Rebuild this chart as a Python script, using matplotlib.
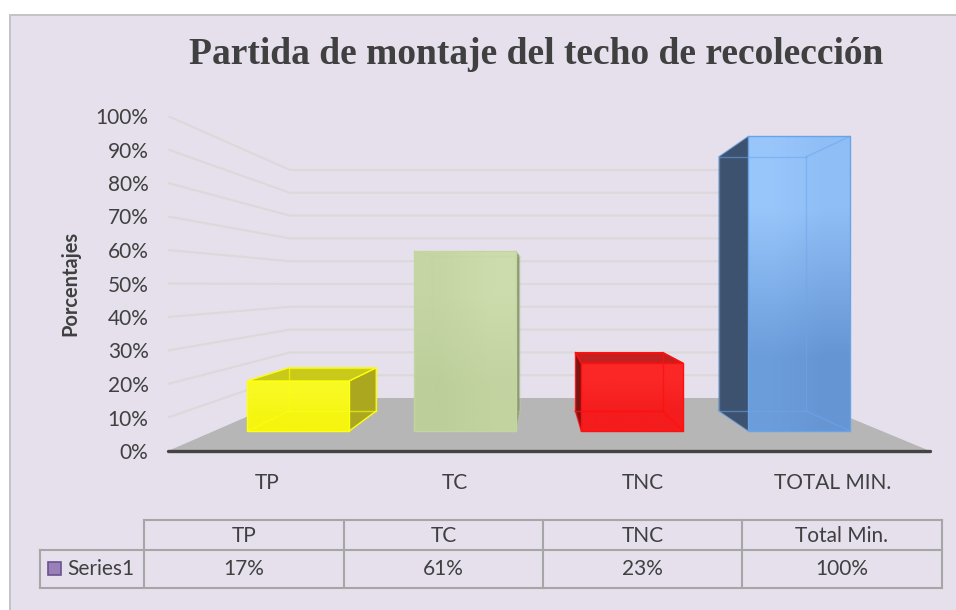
import matplotlib
matplotlib.use("Agg")
import matplotlib.pyplot as plt
import numpy as np
from matplotlib.patches import Polygon, Rectangle

# ---- data ----
title = "Partida de montaje del techo de recolección"
y_label = "Porcentajes"
axis_categories = ["TP", "TC", "TNC", "TOTAL MIN."]
table_categories = ["TP", "TC", "TNC", "Total Min."]
series_name = "Series1"
values = [17, 61, 23, 100]
y_ticks = list(range(0, 101, 10))

W, H = 956, 610
BG = "#e5e0ec"
TXT = "#404040"
FONT = "Lato"
fig = plt.figure(figsize=(W / 100, H / 100), dpi=100, facecolor="white")

# overlay in pixel units: frame, title, table
ov = fig.add_axes([0, 0, 1, 1], zorder=0)
ov.set_xlim(0, W); ov.set_ylim(H, 0); ov.axis("off")
ov.add_patch(Rectangle((10, 15), W, H, fc=BG, ec="#c4c4c4", lw=1.4, clip_on=True))
ov.text(536, 55, title, family="Liberation Serif", weight="bold", fontsize=27,
        color=TXT, ha="center", va="center")

# main chart axes: x in category units, y in percent (front plane of the floor)
L, R, T, B = 168, 930, 116, 451
ax = fig.add_axes([L / W, 1 - B / H, (R - L) / W, (B - T) / H], zorder=1)
ax.set_xlim(0, 4); ax.set_ylim(0, 100)
ax.patch.set_alpha(0)
for s in ax.spines.values():
    s.set_visible(False)
ax.set_xticks(np.arange(4) + np.array([0.52, 0.507, 0.49, 0.49]))
ax.set_xticklabels(axis_categories)
ax.set_yticks(y_ticks)
ax.set_yticklabels([f"{v}%" for v in y_ticks])
ax.tick_params(length=0, labelcolor=TXT, labelsize=15)
ax.tick_params(axis="x", pad=16)
ax.tick_params(axis="y", pad=14)
for lab in ax.get_xticklabels() + ax.get_yticklabels():
    lab.set_family(FONT)
ax.set_ylabel(y_label, family=FONT, weight="bold", fontsize=14.4, color=TXT, labelpad=11)


def proj(u, v, t):
    """category position u, value v, depth t (0 front .. 1 back wall) -> data coords"""
    x = (122 * t + u * (762 - 250 * t) / 4) / 762 * 4
    y = (53 * t + v * (3.35 - 1.07 * t)) / 3.35
    return x, y


def P(*pts):
    return [proj(*p) for p in pts]


# floor
ax.add_patch(Polygon(P((0, 0, 0), (4, 0, 0), (4, 0, 1), (0, 0, 1)), fc="#b6b6b6", ec="none", zorder=1))
# wall grid lines
for v in y_ticks[1:]:
    xs, ys = zip(*P((0, v, 0), (0, v, 1), (4, v, 1)))
    ax.plot(xs, ys, color="#dbd9d9", lw=1.5, zorder=1.5, solid_capstyle="butt")
xs, ys = zip(*P((0, 0, 0), (4, 0, 0)))
ax.plot(xs, ys, color="#444444", lw=2.4, zorder=6, clip_on=False, solid_capstyle="round")

TF, TB = 0.377, 0.755  # bar front and back depth
UL, UR = 0.2, 0.81     # bar span inside its category

styles = [
    dict(front=[["#f9f922", "#f9f922"], ["#f5f510", "#f5f510"]], top="#c9c91a", side="#aba81f",
         edge="#ffff10", inner="#ffff10", show="right", alpha=0.6),
    dict(front=[["#c5d6a4", "#ccdcac"], ["#bccf9a", "#c2d3a0"]], top="#c5d6a4", side="#8b9a72",
         edge="#c4d6a0", inner="#bfd49b", show="right", alpha=0.25),
    dict(front=[["#fb2727", "#fb2727"], ["#f41c1c", "#f41c1c"]], top="#c32020", side="#7d1414",
         edge="#ff1010", inner="#ff1010", show="left", alpha=0.8),
    dict(front=[["#98c6fb", "#8fbef6"], ["#6c9ddb", "#6695d4"]], top="#8dbdf5", side="#3c526f",
         edge="#6aa3e6", inner="#6ea6ea", show="left", alpha=0.55),
]

for i, (val, st) in enumerate(zip(values, styles)):
    a, b = i + UL, i + UR
    fl, fr = (a, 0, TF), (b, 0, TF)
    ftl, ftr = (a, val, TF), (b, val, TF)
    bl, br = (a, 0, TB), (b, 0, TB)
    btl, btr = (a, val, TB), (b, val, TB)
    z = 2 + i * 0.1
    # side face
    if st["show"] == "right":
        side = P(fr, br, btr, ftr)
    else:
        side = P(fl, bl, btl, ftl)
    ax.add_patch(Polygon(side, fc=st["side"], ec=st["edge"] if i == 0 else "none", lw=0.8, zorder=z))
    # top face, only seen when the back edge rises above the front edge
    if proj(a, val, TB)[1] > proj(a, val, TF)[1]:
        ax.add_patch(Polygon(P(ftl, ftr, btr, btl), fc=st["top"], ec=st["edge"], lw=0.8, zorder=z + 0.01))
    # front face with soft gradient
    quad = Polygon(P(fl, fr, ftr, ftl), fc="none", ec="none", transform=ax.transData)
    ax.add_patch(quad)
    xs = [p[0] for p in quad.get_xy()]; ys = [p[1] for p in quad.get_xy()]
    colors = np.array([[matplotlib.colors.to_rgb(c) for c in row] for row in st["front"]])
    im = ax.imshow(colors, extent=(min(xs), max(xs), min(ys), max(ys)), origin="upper",
                   interpolation="bilinear", aspect="auto", zorder=z + 0.02)
    im.set_clip_path(quad)
    ax.add_patch(Polygon(P(fl, fr, ftr, ftl), fc="none", ec=st["edge"], lw=1.0, zorder=z + 0.05))
    # inner edges seen through the translucent front
    for p, q in [(bl, br), (bl, btl), (br, btr), (btl, btr), (fl, bl), (fr, br), (ftl, btl), (ftr, btr)]:
        xs, ys = zip(*P(p, q))
        ax.plot(xs, ys, color=st["inner"], lw=1, alpha=st["alpha"], zorder=z + 0.04, clip_on=False)
ax.set_xlim(0, 4); ax.set_ylim(0, 100)

# data table
col_x = [144, 344, 543, 742, 942]
y_top, y_mid, y_bot = 520, 550, 588
line = dict(color="#a6a6a6", lw=1.5, solid_capstyle="projecting")
ov.plot([144, 942], [y_top, y_top], **line)
ov.plot([40, 942], [y_mid, y_mid], **line)
ov.plot([40, 942], [y_bot, y_bot], **line)
ov.plot([40, 40], [y_mid, y_bot], **line)
for x in col_x:
    ov.plot([x, x], [y_top, y_bot], **line)
for j, (cat, val) in enumerate(zip(table_categories, values)):
    cx = (col_x[j] + col_x[j + 1]) / 2
    ov.text(cx, (y_top + y_mid) / 2 + 0.5, cat, family=FONT, fontsize=15, color=TXT, ha="center", va="center")
    ov.text(cx, (y_mid + y_bot) / 2, f"{val}%", family=FONT, fontsize=15, color=TXT, ha="center", va="center")
ov.add_patch(Rectangle((48, 562), 13, 13, fc="#9a80b8", ec="#6b5390", lw=1.2))
ov.text(67, (y_mid + y_bot) / 2, series_name, family=FONT, fontsize=15, color=TXT, ha="left", va="center")

fig.savefig("out.png", dpi=100, facecolor="white")
